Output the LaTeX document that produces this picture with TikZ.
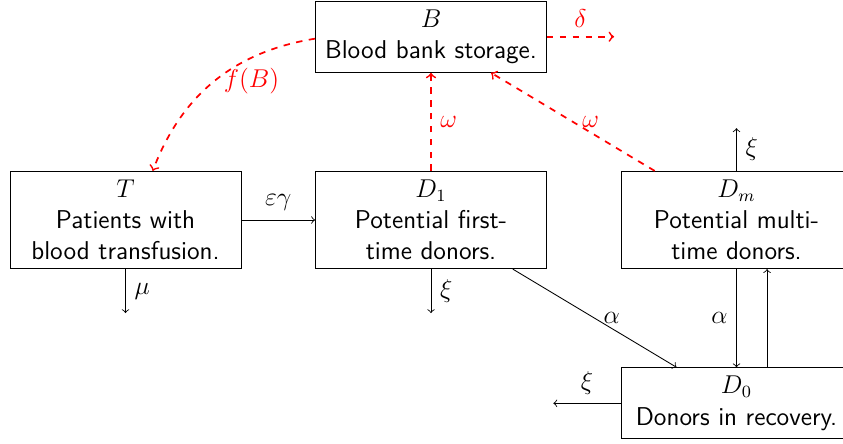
\documentclass[12pt,tikz,border=0pt]{standalone}
\usetikzlibrary{positioning}
\begin{document}
\begin{tikzpicture}[
  box/.style={draw, fill=white, text width=3.5cm, align=center, font=\sffamily},
  flow/.style={->},
  redflow/.style={->, red, dashed, thick},
  lbl/.style={midway}
]
\useasboundingbox (-2.054,-3.650) rectangle (11.743,3.601);
\node[box] (T)  at (0,0)   {$T$\\Patients with\\blood transfusion.};
\node[box] (D1) at (5,0)   {$D_1$\\Potential first-\\time donors.};
\node[box] (Dm) at (10,0)  {$D_m$\\Potential multi-\\time donors.};
\node[box] (B)  at (5,3)   {$B$\\Blood bank storage.};
\node[box] (D0) at (10,-3) {$D_0$\\Donors in recovery.};

\coordinate[below=0.72cm of T.south] (muend);
\coordinate[below=0.72cm of D1.south] (xione);
\coordinate[above=0.7cm of Dm.north] (xim);
\coordinate[left=1.1cm of D0.west] (xizero);
\coordinate[right=1.1cm of B.east] (deltaend);

\draw[flow] (T) -- node[lbl, above] {$\varepsilon\gamma$} (D1);
\draw[flow] (T.south) -- node[lbl, right] {$\mu$} (muend);
\draw[flow] (D1.south) -- node[lbl, right] {$\xi$} (xione);
\draw[flow] (Dm.north) -- node[lbl, right] {$\xi$} (xim);
\draw[flow] (D0.west) -- node[lbl, above] {$\xi$} (xizero);
\draw[flow] (D1) -- node[lbl, right] {$\alpha$} (D0);
\draw[flow] (Dm) -- node[lbl, left] {$\alpha$} (D0);
\draw[flow] ([xshift=0.5cm]D0.north) -- ([xshift=0.5cm]Dm.south);

\draw[redflow] (B) to[bend right=30] node[lbl, right] {$f(B)$} (T);
\draw[redflow] (B.east) -- node[lbl, above] {$\delta$} (deltaend);
\draw[redflow] (D1) -- node[lbl, right] {$\omega$} (B);
\draw[redflow] (Dm) -- node[lbl, right] {$\omega$} (B);
\end{tikzpicture}
\end{document}
